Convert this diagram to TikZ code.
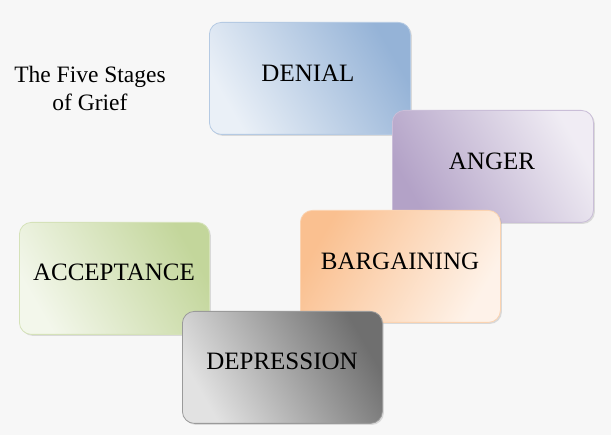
\documentclass[tikz,border=0pt]{standalone}
\usepackage{fontspec}
\setmainfont{Liberation Serif}
\usetikzlibrary{shadows}
\begin{document}
\begin{tikzpicture}[x=1pt,y=-1pt,
  stage/.style={rounded corners=12pt,minimum width=200pt,minimum height=112pt,anchor=north west,
    draw=#1!70!white,line width=0.8pt,
    drop shadow={shadow xshift=1.5pt,shadow yshift=-1.5pt,opacity=0.25}},
  lab/.style={font=\fontsize{25}{27}\selectfont}]
\definecolor{bg}{HTML}{F7F7F7}
\definecolor{blu}{HTML}{95B3D7}
\definecolor{pur}{HTML}{B3A2C7}
\definecolor{org}{HTML}{FAC090}
\definecolor{grn}{HTML}{C3D69B}
\definecolor{gry}{HTML}{6F6F6F}
\fill[bg] (0,0) rectangle (611,435);
\useasboundingbox (0,0) rectangle (611,435);
\node[align=center,font=\fontsize{23.5}{28}\selectfont] (title) at (90,88) {The Five Stages\\of Grief};
\node[stage=blu,minimum width=201pt,left color=blu,right color=blu!20!white,shading angle=-60] (denial) at (209,22) {};
\node[lab] at (308,73) {DENIAL};
\node[stage=pur,minimum width=201pt,left color=pur!20!white,right color=pur,shading angle=-60] (anger) at (392,110) {};
\node[lab] at (492,161) {ANGER};
\node[stage=org,left color=org,right color=org!20!white,shading angle=60] (barg) at (300,210) {};
\node[lab] at (400,261) {BARGAINING};
\node[stage=grn,minimum width=190pt,left color=grn,right color=grn!20!white,shading angle=-60] (acc) at (19,222) {};
\node[lab] at (114,272) {ACCEPTANCE};
\node[stage=gry,left color=gry,right color=gry!20!white,shading angle=-60] (dep) at (182,311) {};
\node[lab] at (282,361) {DEPRESSION};
\end{tikzpicture}
\end{document}
